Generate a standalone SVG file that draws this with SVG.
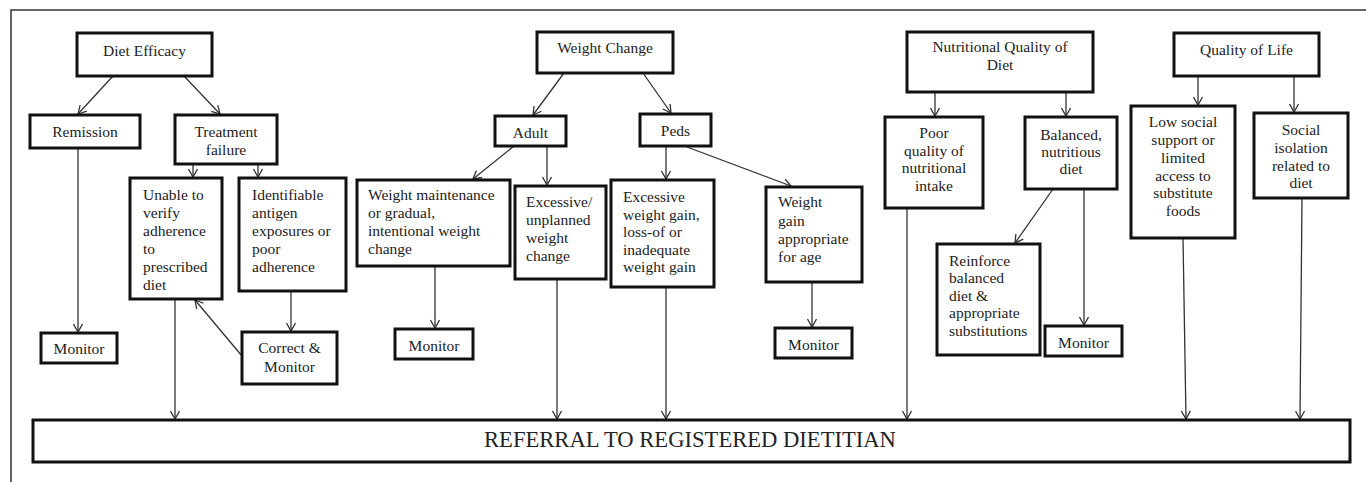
<svg xmlns="http://www.w3.org/2000/svg" width="1366" height="482" viewBox="0 0 1366 482">
<style>
.box{fill:#fff;stroke:#111;stroke-width:3}
.t{font-family:'Liberation Serif','DejaVu Serif',serif;font-size:15.5px;fill:#222}
.c{text-anchor:middle}
.con line{stroke:#333;stroke-width:1.3;marker-end:url(#ah)}
</style>
<defs>
<marker id="ah" viewBox="0 0 10 10" refX="9" refY="5" markerWidth="10" markerHeight="10" markerUnits="userSpaceOnUse" orient="auto">
<path d="M1,0.5 L9,5 L1,9.5" fill="none" stroke="#333" stroke-width="1.3"/>
</marker>
</defs>
<rect width="1366" height="482" fill="#fff"/>
<path d="M11,482 V10 H1366" fill="none" stroke="#333" stroke-width="1.5"/>

<g id="connectors" class="con">
<line x1="113" y1="76" x2="78" y2="114"/>
<line x1="184" y1="76" x2="220" y2="114"/>
<line x1="78" y1="148" x2="78" y2="332"/>
<line x1="193" y1="164" x2="193" y2="177"/>
<line x1="258" y1="164" x2="258" y2="177"/>
<line x1="175" y1="299" x2="175" y2="419"/>
<line x1="291" y1="291" x2="291" y2="331"/>
<line x1="242" y1="356" x2="195" y2="300"/>
<line x1="564" y1="73" x2="533" y2="115"/>
<line x1="643" y1="73" x2="671" y2="113"/>
<line x1="514" y1="146" x2="473" y2="179"/>
<line x1="547" y1="146" x2="547" y2="185"/>
<line x1="666" y1="146" x2="666" y2="179"/>
<line x1="687" y1="147" x2="791" y2="186"/>
<line x1="435" y1="266" x2="435" y2="328"/>
<line x1="557" y1="279" x2="557" y2="419"/>
<line x1="666" y1="287" x2="666" y2="419"/>
<line x1="812" y1="282" x2="812" y2="327"/>
<line x1="935" y1="92" x2="935" y2="116"/>
<line x1="1066" y1="92" x2="1066" y2="116"/>
<line x1="1053" y1="189" x2="1015" y2="243"/>
<line x1="1084" y1="189" x2="1084" y2="325"/>
<line x1="907" y1="208" x2="907" y2="419"/>
<line x1="1198" y1="76" x2="1198" y2="105"/>
<line x1="1294" y1="76" x2="1294" y2="112"/>
<line x1="1183" y1="238" x2="1186" y2="419"/>
<line x1="1302" y1="198" x2="1300" y2="419"/>
</g>

<g id="diet-efficacy"><rect class="box" x="77" y="33" width="135" height="43"/><text class="t c" x="144.5" y="56">Diet Efficacy</text></g>
<g id="remission"><rect class="box" x="30" y="115" width="110" height="33"/><text class="t c" x="85" y="137">Remission</text></g>
<g id="treatment-failure"><rect class="box" x="175" y="115" width="102" height="49"/><text class="t c" x="226" y="137">Treatment</text><text class="t c" x="226" y="155">failure</text></g>
<g id="unable"><rect class="box" x="130" y="178" width="92" height="121"/><text class="t" x="143" y="200">Unable to</text><text class="t" x="143" y="218">verify</text><text class="t" x="143" y="236">adherence</text><text class="t" x="143" y="254">to</text><text class="t" x="143" y="272">prescribed</text><text class="t" x="143" y="290">diet</text></g>
<g id="identifiable"><rect class="box" x="239" y="178" width="107" height="113"/><text class="t" x="252" y="200">Identifiable</text><text class="t" x="252" y="218">antigen</text><text class="t" x="252" y="236">exposures or</text><text class="t" x="252" y="254">poor</text><text class="t" x="252" y="272">adherence</text></g>
<g id="monitor-1"><rect class="box" x="41" y="333" width="76" height="30"/><text class="t c" x="79" y="354">Monitor</text></g>
<g id="correct-monitor"><rect class="box" x="242" y="332" width="95" height="52"/><text class="t c" x="289.5" y="353">Correct &amp;</text><text class="t c" x="289.5" y="372">Monitor</text></g>

<g id="weight-change"><rect class="box" x="537" y="32" width="136" height="41"/><text class="t c" x="605" y="53">Weight Change</text></g>
<g id="adult"><rect class="box" x="495" y="116" width="71" height="30"/><text class="t c" x="530.5" y="138">Adult</text></g>
<g id="peds"><rect class="box" x="640" y="114" width="71" height="32"/><text class="t c" x="675.5" y="136">Peds</text></g>
<g id="weight-maintenance"><rect class="box" x="357" y="180" width="153" height="86"/><text class="t" x="368" y="200">Weight maintenance</text><text class="t" x="368" y="218">or gradual,</text><text class="t" x="368" y="236">intentional weight</text><text class="t" x="368" y="254">change</text></g>
<g id="monitor-2"><rect class="box" x="395" y="329" width="78" height="30"/><text class="t c" x="434" y="351">Monitor</text></g>
<g id="excessive-unplanned"><rect class="box" x="515" y="186" width="91" height="93"/><text class="t" x="526" y="207">Excessive/</text><text class="t" x="526" y="225">unplanned</text><text class="t" x="526" y="243">weight</text><text class="t" x="526" y="261">change</text></g>
<g id="excessive-gain"><rect class="box" x="611" y="180" width="103" height="107"/><text class="t" x="623" y="202">Excessive</text><text class="t" x="623" y="220">weight gain,</text><text class="t" x="623" y="237">loss-of or</text><text class="t" x="623" y="255">inadequate</text><text class="t" x="623" y="272">weight gain</text></g>
<g id="weight-gain-appropriate"><rect class="box" x="766" y="187" width="96" height="95"/><text class="t" x="778" y="207">Weight</text><text class="t" x="778" y="226">gain</text><text class="t" x="778" y="244">appropriate</text><text class="t" x="778" y="262">for age</text></g>
<g id="monitor-3"><rect class="box" x="775" y="328" width="77" height="30"/><text class="t c" x="813.5" y="350">Monitor</text></g>

<g id="nutritional-quality"><rect class="box" x="907" y="32" width="186" height="60"/><text class="t c" x="1000" y="52">Nutritional Quality of</text><text class="t c" x="1000" y="70">Diet</text></g>
<g id="poor-quality"><rect class="box" x="885" y="117" width="98" height="91"/><text class="t c" x="934" y="138">Poor</text><text class="t c" x="934" y="156">quality of</text><text class="t c" x="934" y="173">nutritional</text><text class="t c" x="934" y="191">intake</text></g>
<g id="balanced"><rect class="box" x="1025" y="117" width="92" height="72"/><text class="t c" x="1071" y="140">Balanced,</text><text class="t c" x="1071" y="157">nutritious</text><text class="t c" x="1071" y="174">diet</text></g>
<g id="reinforce"><rect class="box" x="937" y="244" width="103" height="111"/><text class="t" x="949" y="266">Reinforce</text><text class="t" x="949" y="283">balanced</text><text class="t" x="949" y="301">diet &amp;</text><text class="t" x="949" y="318">appropriate</text><text class="t" x="949" y="336">substitutions</text></g>
<g id="monitor-4"><rect class="box" x="1045" y="326" width="77" height="30"/><text class="t c" x="1083.5" y="348">Monitor</text></g>

<g id="quality-of-life"><rect class="box" x="1174" y="33" width="145" height="43"/><text class="t c" x="1246.5" y="55">Quality of Life</text></g>
<g id="low-social"><rect class="box" x="1131" y="106" width="104" height="132"/><text class="t c" x="1183" y="127">Low social</text><text class="t c" x="1183" y="145">support or</text><text class="t c" x="1183" y="163">limited</text><text class="t c" x="1183" y="181">access to</text><text class="t c" x="1183" y="198">substitute</text><text class="t c" x="1183" y="216">foods</text></g>
<g id="social-isolation"><rect class="box" x="1254" y="113" width="94" height="85"/><text class="t c" x="1301" y="135">Social</text><text class="t c" x="1301" y="153">isolation</text><text class="t c" x="1301" y="171">related to</text><text class="t c" x="1301" y="188">diet</text></g>

<g id="referral"><rect class="box" x="33" y="420" width="1317" height="42"/><text class="t c" x="690" y="447" style="font-size:22.6px">REFERRAL TO REGISTERED DIETITIAN</text></g>
</svg>
